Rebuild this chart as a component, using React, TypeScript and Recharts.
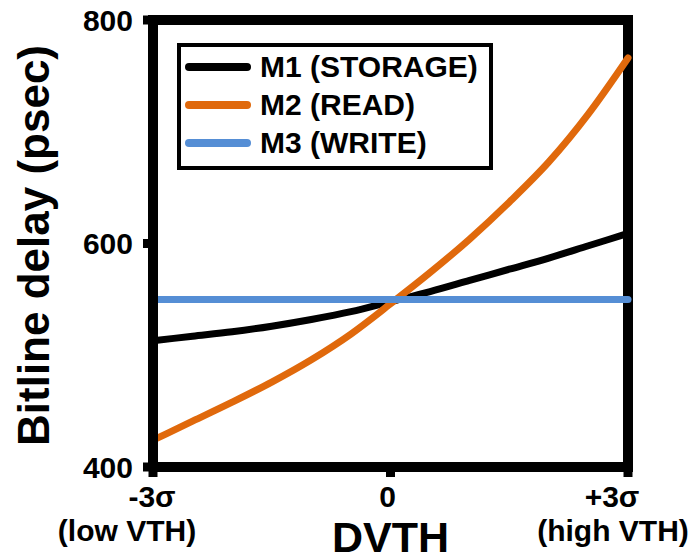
import { LineChart, Line, XAxis, YAxis, ReferenceLine, Legend } from 'recharts';

const sigma = [-3, -2.5, -2, -1.5, -1, -0.5, 0, 0.5, 1, 1.5, 2, 2.5, 3];
const m1Storage = [513, 517, 521, 526, 532, 539, 548, 557, 567, 577, 587, 598, 609];
const m2Read = [424, 441, 458, 476, 496, 519, 546, 574, 604, 637, 673, 716, 766];
const m3Write = [550, 550, 550, 550, 550, 550, 550, 550, 550, 550, 550, 550, 550];

const xTicks = [-3, 0, 3];
const xTickTop = ['-3σ', '0', '+3σ'];
const xTickBottom = ['(low VTH)', '', '(high VTH)'];
const yTicks = [400, 600, 800];

const series = [
  { key: 'm1', name: 'M1 (STORAGE)', color: '#000000' },
  { key: 'm2', name: 'M2 (READ)', color: '#E0690C' },
  { key: 'm3', name: 'M3 (WRITE)', color: '#558ED5' },
];

const data = sigma.map((s, i) => ({ s, m1: m1Storage[i], m2: m2Read[i], m3: m3Write[i] }));

const FONT = '"Liberation Sans", Arial, sans-serif';

function XTick({ x, y, payload }: any) {
  const i = xTicks.indexOf(payload.value);
  const dxTop = i === 2 ? -16 : i === 1 ? -3 : -1;
  const dxBottom = i === 0 ? -26 : -15;
  return (
    <g>
      <text x={x + dxTop} y={y + 30} textAnchor="middle" fontFamily={FONT} fontWeight="bold" fontSize={30} fill="#000">
        {xTickTop[i]}
      </text>
      {xTickBottom[i] && (
        <text x={x + dxBottom} y={y + 64} textAnchor="middle" fontFamily={FONT} fontWeight="bold" fontSize={30} fill="#000">
          {xTickBottom[i]}
        </text>
      )}
    </g>
  );
}

function LegendBox() {
  return (
    <div
      style={{
        position: 'relative',
        width: 316,
        height: 127,
        boxSizing: 'border-box',
        border: '4px solid #000',
        background: '#fff',
        fontFamily: FONT,
      }}
    >
      {series.map((s, i) => (
        <div
          key={s.key}
          style={{ position: 'absolute', left: 0, top: 0 + 38 * i, height: 40, width: '100%', display: 'flex', alignItems: 'center' }}
        >
          <svg width={66} height={10} style={{ marginLeft: 4 }}>
            <line x1={4} y1={5} x2={62} y2={5} stroke={s.color} strokeWidth={8} strokeLinecap="round" />
          </svg>
          <span style={{ marginLeft: 9, fontSize: 30, fontWeight: 'bold', color: '#000', lineHeight: '40px' }}>{s.name}</span>
        </div>
      ))}
    </div>
  );
}

export default function App() {
  return (
    <div style={{ width: 696, height: 556, background: '#fff' }}>
      <style>{'body{margin:0;}'}</style>
      <LineChart width={696} height={556} data={data} margin={{ top: 20, right: 68, left: 93, bottom: 0 }}>
        <XAxis
          dataKey="s"
          type="number"
          domain={[-3, 3]}
          ticks={xTicks}
          interval={0}
          height={89}
          axisLine={{ stroke: '#000', strokeWidth: 10 }}
          tickLine={{ stroke: '#000', strokeWidth: 9 }}
          tickSize={10}
          tickMargin={0}
          tick={<XTick />}
          label={{
            value: 'DVTH',
            position: 'insideBottom',
            offset: 4,
            style: { fontFamily: FONT, fontWeight: 'bold', fontSize: 43, fill: '#000' },
          }}
        />
        <YAxis
          type="number"
          domain={[400, 800]}
          ticks={yTicks}
          interval={0}
          width={60}
          axisLine={{ stroke: '#000', strokeWidth: 10 }}
          tickLine={{ stroke: '#000', strokeWidth: 9 }}
          tickSize={10}
          tickMargin={10}
          tick={{ fontFamily: FONT, fontWeight: 'bold', fontSize: 30, fill: '#000' }}
          label={{
            value: 'Bitline delay (psec)',
            angle: -90,
            position: 'center',
            dx: -90,
            dy: 2,
            style: { fontFamily: FONT, fontWeight: 'bold', fontSize: 44, fill: '#000', textAnchor: 'middle' },
          }}
        />
        <ReferenceLine y={800} stroke="#000" strokeWidth={10} strokeLinecap="square" />
        <ReferenceLine x={3} stroke="#000" strokeWidth={10} strokeLinecap="square" />
        <Legend
          layout="vertical"
          align="center"
          verticalAlign="middle"
          wrapperStyle={{ left: 177, top: 43, width: 316, height: 127 }}
          content={() => <LegendBox />}
        />
        {series.map((s) => (
          <Line
            key={s.key}
            dataKey={s.key}
            name={s.name}
            type="monotone"
            stroke={s.color}
            strokeWidth={7}
            strokeLinecap="round"
            dot={false}
            activeDot={false}
            isAnimationActive={false}
          />
        ))}
      </LineChart>
    </div>
  );
}
